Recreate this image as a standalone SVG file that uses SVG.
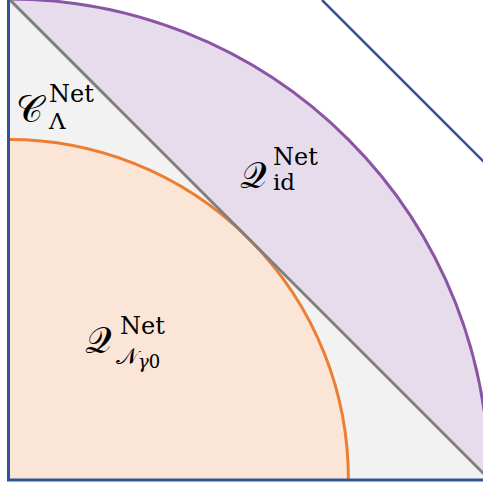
<svg xmlns="http://www.w3.org/2000/svg" width="483" height="486" viewBox="0 0 483 486">
<style>
.lbl{font-family:"DejaVu Serif","Liberation Serif",serif;fill:#000}
.big{font-size:37px}
.sup{font-size:24px}
.sub{font-size:23px}
</style>
<rect width="483" height="486" fill="#fff"/>
<g id="cone">
<polygon points="9,-1 9,479 489,479" fill="#F2F2F2"/>
</g>
<g id="qid">
<path d="M9,-1 A480,480 0 0 1 489,479 Z" fill="#E6DCEB"/>
<path d="M9,-1 A480,480 0 0 1 489,479" fill="none" stroke="#8A55A4" stroke-width="3"/>
</g>
<g id="qn">
<path d="M9,139.6 A339.4,339.4 0 0 1 348.4,479 L9,479 Z" fill="#FBE5D6"/>
<path d="M9,139.6 A339.4,339.4 0 0 1 348.4,479" fill="none" stroke="#ED7D31" stroke-width="3"/>
</g>
<g id="connectors" fill="none">
<line x1="9" y1="-1" x2="489" y2="479" stroke="#7F7F7F" stroke-width="3"/>
<line x1="322" y1="0" x2="489" y2="167" stroke="#2F5597" stroke-width="2.5"/>
<line x1="8.5" y1="0" x2="8.5" y2="481" stroke="#2F5597" stroke-width="3"/>
<line x1="7" y1="480" x2="483" y2="480" stroke="#2F5597" stroke-width="3"/>
</g>
<g id="labels">
<text class="lbl big" x="16" y="122">𝒞</text>
<text class="lbl sup" x="49" y="102">Net</text>
<text class="lbl sub" x="49" y="129" font-size="21">Λ</text>
<text class="lbl big" x="240" y="188">𝒬</text>
<text class="lbl sup" x="273" y="165">Net</text>
<text class="lbl sub" x="273" y="190">id</text>
<text class="lbl big" x="85" y="353">𝒬</text>
<text class="lbl sup" x="120" y="334">Net</text>
<text class="lbl sub" x="116" y="364">𝒩<tspan font-size="18" font-style="italic" dy="4">γ</tspan><tspan font-size="18" dy="0">0</tspan></text>
</g>
</svg>
